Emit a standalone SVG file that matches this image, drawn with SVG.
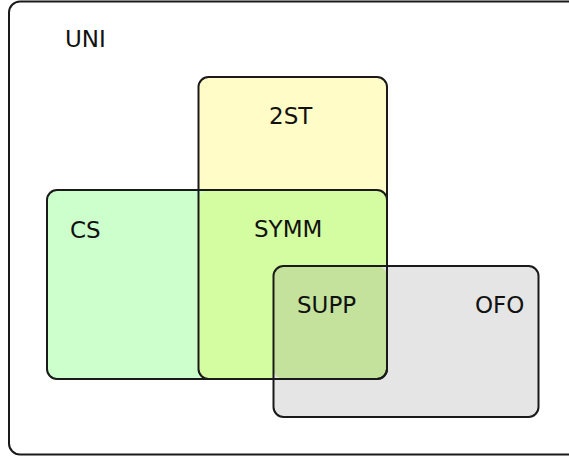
<svg xmlns="http://www.w3.org/2000/svg" width="569" height="458" viewBox="0 0 569 458">
<style>
.box{fill:none;stroke:#1a1a1a;stroke-width:2}
.t{font-family:"DejaVu Sans",sans-serif;font-size:23px;fill:#111}
</style>
<rect width="569" height="458" fill="#fff"/>
<g id="UNI">
<rect class="box" x="9" y="1.5" width="620" height="453" rx="11"/>
<text class="t" x="65" y="47">UNI</text>
</g>
<g id="fills">
<rect x="198.5" y="77" width="188.5" height="302" rx="10" fill="#fffcc8"/>
<rect x="47" y="190" width="340" height="189" rx="10" fill="#ccffcc"/>
<rect x="198.5" y="190" width="188.5" height="189" rx="10" fill="#d4fca0"/>
<rect x="273.5" y="266" width="265" height="151" rx="10" fill="#e5e5e5"/>
<rect x="273.5" y="266" width="113.5" height="113" rx="10" fill="#c4e29c"/>
</g>
<g id="2ST">
<rect class="box" x="198.5" y="77" width="188.5" height="302" rx="10"/>
<text class="t" x="269" y="124">2ST</text>
</g>
<g id="CS">
<rect class="box" x="47" y="190" width="340" height="189" rx="10"/>
<text class="t" x="70" y="238">CS</text>
</g>
<g id="SYMM">
<text class="t" x="254" y="237">SYMM</text>
</g>
<g id="OFO">
<rect class="box" x="273.5" y="266" width="265" height="151" rx="10"/>
<text class="t" x="475" y="313">OFO</text>
</g>
<g id="SUPP">
<text class="t" x="297" y="313">SUPP</text>
</g>
<g id="connectors"></g>
</svg>
